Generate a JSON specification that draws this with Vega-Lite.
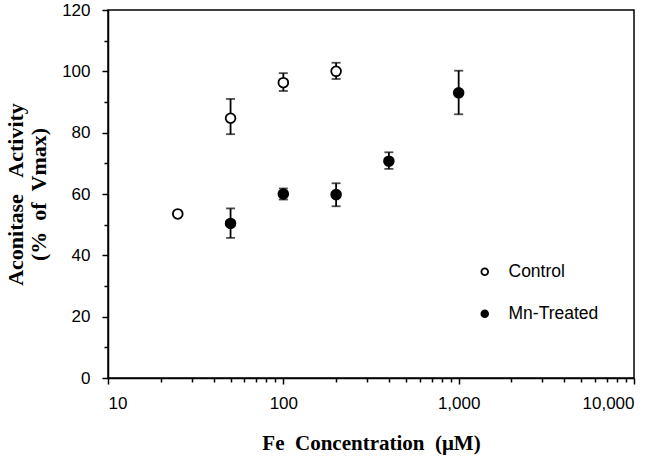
{
  "$schema": "https://vega.github.io/schema/vega-lite/v6.json",
  "width": 526,
  "height": 368,
  "autosize": "none",
  "padding": {"left": 108, "top": 10, "right": 27, "bottom": 82},
  "background": "white",
  "config": {
    "view": {"stroke": "black", "strokeWidth": 1.5},
    "axis": {
      "grid": false,
      "domainColor": "black",
      "domainWidth": 1.5,
      "tickColor": "black",
      "tickWidth": 1.5,
      "labelFont": "Liberation Sans",
      "labelFontSize": 17,
      "labelColor": "black",
      "titleFont": "Liberation Serif",
      "titleFontWeight": "bold",
      "titleFontSize": 21,
      "titleColor": "black"
    }
  },
  "data": {
    "values": [
      {"series": "Control", "conc": 25, "value": 53.5, "lo": null, "hi": null},
      {"series": "Control", "conc": 50, "value": 84.7, "lo": 79.5, "hi": 91},
      {"series": "Control", "conc": 100, "value": 96.3, "lo": 93.6, "hi": 99.4},
      {"series": "Control", "conc": 200, "value": 100, "lo": 97.5, "hi": 102.8},
      {"series": "Mn-Treated", "conc": 50, "value": 50.4, "lo": 45.7, "hi": 55.3},
      {"series": "Mn-Treated", "conc": 100, "value": 60, "lo": 58.2, "hi": 61.8},
      {"series": "Mn-Treated", "conc": 200, "value": 59.8, "lo": 56, "hi": 63.5},
      {"series": "Mn-Treated", "conc": 400, "value": 70.7, "lo": 68.2, "hi": 73.6},
      {"series": "Mn-Treated", "conc": 1000, "value": 93, "lo": 86, "hi": 100.2}
    ]
  },
  "layer": [
    {
      "transform": [{"filter": "datum.lo != null"}],
      "mark": {"type": "errorbar", "color": "black", "thickness": 1.8, "ticks": {"size": 9, "thickness": 1.8, "color": "black"}},
      "encoding": {
        "x": {
          "field": "conc", "type": "quantitative",
          "scale": {"type": "log", "domain": [10, 10000], "nice": false},
          "axis": {
            "orient": "bottom",
            "values": [20, 30, 40, 50, 60, 70, 80, 90, 200, 300, 400, 500, 600, 700, 800, 900, 2000, 3000, 4000, 5000, 6000, 7000, 8000, 9000],
            "labels": false, "tickSize": 4, "title": null, "domain": false
          }
        },
        "y": {
          "field": "lo", "type": "quantitative",
          "scale": {"domain": [0, 120], "nice": false},
          "axis": {
            "orient": "left",
            "values": [10, 30, 50, 70, 90, 110],
            "labels": false, "tickSize": 4, "title": null, "domain": false
          }
        },
        "y2": {"field": "hi"}
      }
    },
    {
      "mark": {"type": "point", "shape": "circle", "size": 95, "strokeWidth": 1.8, "stroke": "black", "opacity": 1},
      "encoding": {
        "x": {
          "field": "conc", "type": "quantitative",
          "scale": {"type": "log", "domain": [10, 10000], "nice": false},
          "axis": {
            "orient": "bottom",
            "values": [10, 100, 1000, 10000],
            "format": ",d",
            "tickSize": 6,
            "labelPadding": 11,
            "title": "Fe\u00a0\u00a0Concentration\u00a0\u00a0(μM)",
            "titlePadding": 21
          }
        },
        "y": {
          "field": "value", "type": "quantitative",
          "scale": {"domain": [0, 120], "nice": false},
          "axis": {
            "orient": "left",
            "values": [0, 20, 40, 60, 80, 100, 120],
            "tickSize": 6,
            "labelPadding": 12,
            "title": ["Aconitase\u00a0\u00a0\u00a0Activity", "(%\u00a0\u00a0of\u00a0\u00a0Vmax)"],
            "titleFontSize": 22,
            "titleLineHeight": 23,
            "titlePadding": 11
          }
        },
        "fill": {
          "field": "series", "type": "nominal",
          "scale": {"domain": ["Control", "Mn-Treated"], "range": ["white", "black"]},
          "legend": {
            "title": null,
            "orient": "none",
            "legendX": 368,
            "legendY": 253,
            "padding": 0,
            "symbolType": "circle",
            "symbolSize": 45,
            "symbolStrokeColor": "black",
            "symbolStrokeWidth": 1.8,
            "labelFont": "Liberation Sans",
            "labelFontSize": 17.5,
            "labelColor": "black",
            "labelOffset": 15,
            "rowPadding": 23
          }
        }
      }
    }
  ],
  "resolve": {"axis": {"x": "independent", "y": "independent"}}
}
